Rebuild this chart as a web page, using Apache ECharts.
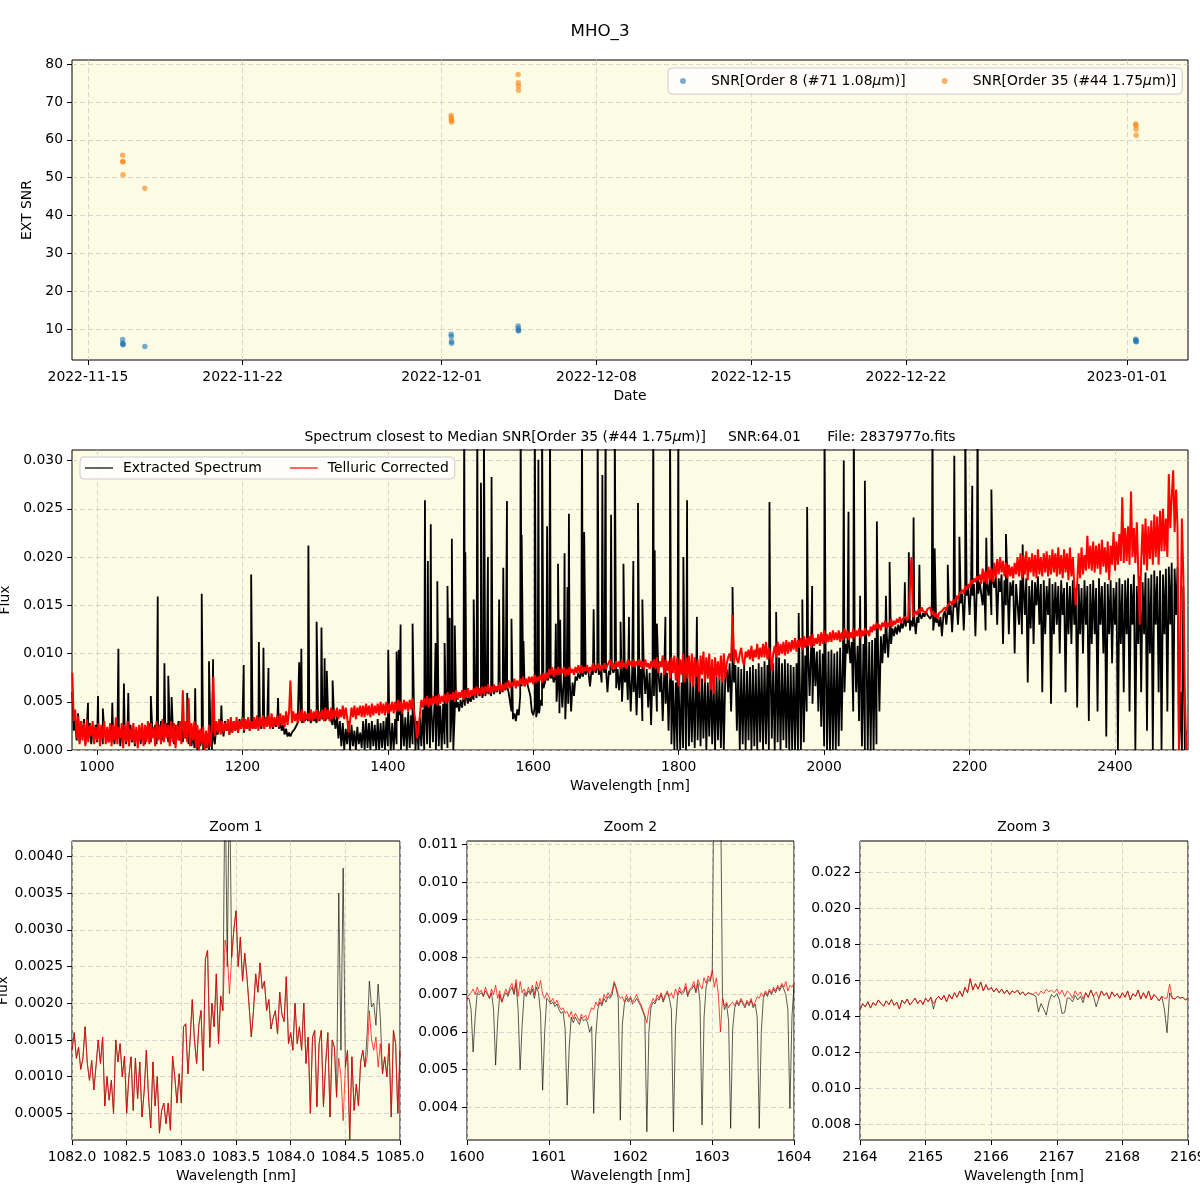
<!DOCTYPE html>
<html>
<head>
<meta charset="utf-8">
<title>MHO_3</title>
<script src="https://cdn.jsdelivr.net/npm/echarts@6/dist/echarts.min.js"></script>
<style>
  html, body { margin: 0; padding: 0; background: #fff; }
  #chart { width: 1200px; height: 1200px; }
</style>
</head>
<body>
<div id="chart"></div>
<script>
// ---------- top panel: SNR per observation ----------
const obsDates = [
  '2022-11-16T13:40', '2022-11-16T13:50', '2022-11-16T14:00', '2022-11-16T14:10', '2022-11-17T13:45',
  '2022-12-01T10:20', '2022-12-01T10:30', '2022-12-01T10:40', '2022-12-01T10:50',
  '2022-12-04T11:00', '2022-12-04T11:10', '2022-12-04T11:20', '2022-12-04T11:30',
  '2023-01-01T09:30', '2023-01-01T09:40', '2023-01-01T09:50', '2023-01-01T10:00'
];
const snrOrder8 = [7.2, 6.2, 6.0, 5.8, 5.4, 8.6, 8.0, 6.7, 6.2, 10.8, 10.1, 9.6, 9.5, 7.3, 7.0, 6.7, 6.6];
const snrOrder35 = [55.9, 54.3, 54.2, 50.8, 47.2, 66.4, 65.8, 65.2, 64.7, 77.3, 75.1, 74.2, 73.1, 64.2, 63.8, 62.8, 61.2];
const dateTicks = ['2022-11-15', '2022-11-22', '2022-12-01', '2022-12-08', '2022-12-15', '2022-12-22', '2023-01-01'];
const snrTicks = [10, 20, 30, 40, 50, 60, 70, 80];

// ---------- middle panel: full spectrum (flux in units of 1e-4, 2 nm sampling) ----------
const specStart = 966;
const specStep = 2;   // nm
const extractedFlux = [
  60,20,30,10,38,8,26,14,32,6,24,12,28,6,22,14,26,8,20,12,24,6,20,12,22,
  8,24,10,20,6,22,12,26,4,20,10,24,6,18,12,26,8,22,4,20,12,24,6,22,10,
  6,24,12,28,8,22,14,26,6,24,12,30,10,26,14,28,8,24,12,28,6,26,14,30,10,
  24,8,28,12,26,6,22,4,18,2,14,0,20,4,10,0,16,2,12,0,18,0,14,6,24,
  16,28,18,26,14,30,20,26,16,28,18,30,20,28,18,32,22,28,18,30,22,32,20,30,22,
  32,22,34,24,30,22,34,24,32,26,34,24,30,22,32,24,30,22,28,20,26,16,22,14,18,
  14,18,16,22,20,28,26,32,28,34,30,36,30,34,28,36,30,34,28,36,30,38,32,36,30,
  36,32,38,30,26,34,22,36,12,30,4,28,0,22,6,30,0,26,4,20,0,24,6,18,2,
  30,0,32,2,28,0,30,4,26,0,32,0,28,2,30,0,34,4,30,0,28,0,32,6,30,
  36,0,38,4,34,0,40,2,36,6,38,0,30,0,34,4,42,0,40,6,44,2,42,8,46,
  0,44,4,46,0,48,6,44,2,50,8,46,0,40,44,50,40,52,44,54,46,56,48,56,50,
  58,52,60,54,62,56,60,54,62,56,64,58,62,56,64,58,66,60,64,58,66,60,68,62,66,
  60,50,40,32,38,30,42,36,56,66,70,66,72,68,70,56,40,36,44,34,42,38,52,46,64,
  70,76,72,78,74,80,70,76,50,74,38,70,44,76,32,72,48,74,40,70,56,76,72,80,74,
  80,76,82,78,84,80,66,82,78,84,80,86,78,84,70,86,80,84,60,82,78,86,80,84,64,
  84,62,82,50,84,70,86,52,84,40,82,60,86,36,80,54,84,30,82,58,84,44,80,26,82,
  56,84,40,82,60,80,30,78,48,80,20,74,6,72,0,70,0,68,0,70,2,72,0,74,4,
  74,8,76,2,72,10,78,4,74,12,76,0,70,14,78,6,72,0,76,10,74,2,80,0,76,
  84,60,90,40,92,70,88,20,86,0,84,6,88,0,82,10,86,0,88,4,84,0,90,8,86,
  0,92,6,88,0,94,12,90,0,92,8,96,0,90,10,94,2,90,0,88,0,86,0,90,0,
  92,0,94,8,98,40,100,56,104,48,106,66,102,40,104,24,100,4,104,0,102,0,104,0,100,
  0,102,4,106,20,104,60,110,100,114,90,112,40,110,60,108,30,112,4,110,0,114,0,112,0,
  114,0,116,6,112,40,118,90,120,100,122,96,124,110,126,118,128,120,130,122,132,126,134,128,136,
  132,124,134,128,136,120,138,132,140,136,142,138,144,140,142,136,140,124,138,132,136,128,138,118,140,
  144,130,146,140,150,122,152,148,156,130,158,152,162,124,164,160,168,140,170,160,172,118,170,162,174,
  172,150,176,124,174,160,178,140,176,168,180,130,178,164,182,110,176,150,178,120,174,160,176,100,172,
  170,130,176,120,172,140,178,70,170,126,176,110,174,150,180,130,172,60,176,120,170,140,178,48,172,
  120,174,130,170,100,176,140,168,60,174,120,170,110,176,130,168,44,172,120,168,100,176,130,170,30,
  172,110,176,120,168,40,178,130,170,100,174,14,172,120,176,90,168,130,174,0,178,110,172,60,176,
  120,178,40,172,130,182,0,170,110,180,60,174,120,184,20,178,100,182,0,186,130,180,60,186,0,
  182,120,188,40,190,130,194,0,188,140,190,0,60,0,170,0,20
];
// narrow emission lines of the extracted spectrum (wavelength nm, flux 1e-4)
const emissionWl = [
  987.6,1001.4,1008,1021,1029.4,1037,1043,1074,1083.5,1092.7,1098,1102.6,1124,1135,1144,1154,1159.6,1171,
  1201.8,1212,1222.6,1228.9,1235.8,1249,1278,1281,1290.7,1302,1308.7,1313,1316,1324,
  1400.5,1412,1415,1417.5,1434,1451,1455,1459,1465.6,1468,1478,1482,1485,1488,1492,1505,1506.5,1518,1523,
  1528,1532,1537.6,1542.6,1553,1558.7,1563.8,1570,1582.6,1584,1586.5,1602,1607,1612,1619,1623,1631,1634,
  1637,1643,1647,1649,1667,1670,1683,1688.5,1695,1699.5,1707,1712,1720,1724,1731.6,1737.6,
  1744,1750,1765,1767,1770,1781.7,1788,1799.5,1806.4,1811.5,1825,1874,1924.8,1934,1965,1970,1976.6,1983.5,
  2000.5,2027,2033.5,2040.8,2049.5,2056,2072.5,2085,2090,2111,2116.5,2123,2131,2149,2152,2170,2179,2186,
  2194,2203.7,2211,2223,2230,2250,2273
];
const emissionFlux = [
  49,56,43,49,105,69,59,56,159,90,77,55,59,64,162,92,94,46,
  88,182,112,106,85,54,91,105,212,133,127,95,82,72,
  104,102,104,130,131,259,196,234,111,175,111,170,137,219,129,350,205,156,350,
  277,350,200,283,156,189,258,136,350,223,113,350,301,350,232,350,131,193,
  135,204,169,245,350,226,146,350,285,350,244,350,133,193,138,196,
  256,156,350,207,131,138,350,350,200,259,138,169,257,143,142,156,252,170,
  350,300,247,350,160,279,237,160,195,174,205,241,192,350,209,192,305,221,
  350,274,350,220,270,224,213
];
const correctedFlux = [
  80,30,42,12,35,6,30,10,28,4,32,8,26,14,30,6,24,10,28,4,26,12,30,6,24,
  8,28,4,26,10,34,6,24,12,28,2,26,8,30,4,22,10,28,6,24,2,26,10,28,4,
  26,8,30,6,28,12,24,4,30,10,26,6,32,8,28,12,26,4,30,8,28,2,26,10,30,
  6,62,12,30,8,54,4,28,10,30,2,26,0,22,6,24,0,20,2,26,4,22,76,14,30,
  18,32,16,30,18,28,20,32,16,34,18,30,20,34,18,30,22,34,20,32,22,34,20,30,22,
  34,22,36,20,34,24,36,22,34,24,36,22,38,24,34,26,36,24,38,26,36,24,40,26,38,
  72,28,40,30,38,28,40,30,42,28,40,32,38,30,42,30,40,32,42,30,40,32,42,30,44,
  32,42,30,44,32,42,34,44,32,42,34,46,32,44,34,18,30,44,34,46,32,44,36,46,34,
  46,34,48,36,46,34,48,36,46,38,48,36,50,38,48,36,50,38,48,40,50,38,50,40,52,
  40,50,38,52,42,50,40,52,42,54,40,30,12,20,36,52,44,54,46,56,44,54,46,56,48,
  56,46,58,48,56,50,58,48,60,50,58,52,60,50,62,52,60,54,62,52,62,54,64,54,62,
  56,64,56,66,58,64,56,66,58,66,60,68,58,66,60,68,60,66,62,70,60,68,62,70,64,
  72,64,70,66,74,64,72,66,74,68,76,66,74,68,76,70,76,68,78,70,76,72,78,70,80,
  72,80,74,84,78,86,76,84,78,86,78,84,80,86,76,84,78,86,80,84,78,86,80,88,80,
  88,80,86,82,88,80,86,82,90,82,88,84,90,82,88,84,90,84,88,86,94,84,90,84,92,
  86,92,84,94,86,90,84,94,88,92,86,94,86,92,88,94,86,92,84,94,86,90,84,92,86,
  94,84,96,80,92,86,98,78,94,82,92,74,96,80,98,72,96,66,94,78,100,70,96,74,98,
  70,100,66,96,76,94,60,98,78,102,70,96,74,100,62,94,58,96,76,92,72,98,70,100,74,
  90,96,100,92,140,90,104,94,90,100,106,92,88,102,96,104,94,108,92,104,96,110,94,106,96,
  110,96,112,94,106,98,82,100,108,96,112,98,110,100,112,98,114,100,112,102,114,104,116,102,114,
  106,116,104,118,106,116,108,118,106,120,108,116,110,120,108,122,110,124,110,120,112,122,112,124,114,
  122,114,124,112,122,114,126,116,124,114,122,116,126,116,124,118,126,116,124,118,126,120,124,118,128,
  122,130,124,132,126,130,124,132,128,134,126,132,128,136,128,134,130,136,132,138,132,136,134,138,134,
  138,136,200,138,140,144,140,146,142,148,144,146,142,146,144,148,140,144,138,142,136,142,140,144,142,
  148,144,150,148,154,150,156,152,160,156,162,160,166,162,170,166,172,168,176,172,178,174,180,176,182,
  172,188,174,186,172,190,176,188,174,194,178,198,182,200,184,196,180,194,178,192,180,190,178,194,182,
  200,180,204,178,202,182,206,176,200,184,204,180,202,178,208,182,200,180,204,184,206,180,202,182,208,
  184,204,180,210,182,202,178,208,184,204,176,210,180,200,170,150,172,204,178,210,182,202,186,222,188,
  212,186,216,184,212,188,214,182,218,190,210,184,216,176,212,192,226,186,216,192,224,196,262,194,230,
  196,232,192,268,200,230,194,236,186,130,196,234,192,240,186,232,198,238,192,244,200,242,192,248,206,
  250,206,240,200,286,230,262,290,226,270,230,0,120,240,180,60,0
];
const wlTicks = [1000, 1200, 1400, 1600, 1800, 2000, 2200, 2400];
const fluxTicks = [0, 50, 100, 150, 200, 250, 300];

// ---------- zoom panels (flux in units of 1e-5) ----------
const zoom1Start = 1082, zoom1Step = 0.02;
const zoom1Extracted = [
  136,160,125,140,110,125,168,118,95,122, 82,115,150,118,154,60,100,68,95,50,
  150,120,145,100,128,50,100,127,54,125, 70,120,45,80,136,72,30,120,60,100,
  23,54,64,36,64,27,128,100,64,104, 64,168,172,104,150,205,150,118,170,190,
  108,260,272,140,200,168,240,145,210,190, 520,250,520,262,300,326,250,290,230,268,
  236,196,154,190,240,215,255,220,230,190, 205,165,180,190,158,215,185,175,236,145,
  160,136,200,145,168,136,200,118,154,50, 154,163,59,145,163,59,118,160,45,150,
  140,72,350,136,384,113,136,14,127,54, 90,60,120,136,113,160,230,195,200,170,
  226,180,104,127,100,145,45,163,145,50, 136
];
const zoom1Corrected = [
  136,160,125,140,110,125,168,118,95,122, 82,115,150,118,154,60,100,68,95,50,
  150,120,145,100,128,50,100,127,54,125, 70,120,45,80,136,72,30,120,60,100,
  23,54,64,36,64,27,128,100,64,104, 64,168,172,104,150,205,150,118,170,190,
  108,260,272,140,200,168,240,145,210,190, 286,268,213,262,300,326,250,290,230,268,
  236,196,154,190,240,215,255,220,230,190, 205,165,180,190,158,215,185,175,236,145,
  160,136,200,145,168,136,200,118,154,50, 154,163,59,145,163,59,118,160,45,150,
  140,72,125,100,40,113,136,14,127,54, 90,60,120,136,113,127,190,150,136,154,
  113,145,104,127,100,145,45,163,145,50, 136
];
const zoom1XTicks = [1082, 1082.5, 1083, 1083.5, 1084, 1084.5, 1085];
const zoom1YTicks = [50, 100, 150, 200, 250, 300, 350, 400];

const zoom2Start = 1600, zoom2Step = 0.025;
const zoom2Extracted = [
  690,690,660,547,640,705,700,705,695,710, 700,690,705,660,512,630,700,680,695,705,
  695,710,720,700,730,660,499,620,705,695, 710,700,715,690,720,705,650,445,600,690,
  685,675,680,668,675,660,650,655,610,405, 560,640,625,640,630,620,640,630,635,625,
  600,615,383,590,660,680,670,690,680,695, 690,700,730,715,690,365,620,675,690,680,
  690,675,680,690,680,670,655,640,334,600, 665,680,675,690,685,700,680,695,705,690,
  660,334,610,695,710,700,705,720,695,710, 715,725,705,730,680,352,640,720,740,735,
  760,1400,1600,1500,1300,694,660,675,630,343, 610,665,680,670,685,675,665,680,670,685,
  665,675,640,343,600,690,705,695,710,700, 715,705,720,710,725,715,700,660,396,640,
  725
];
const zoom2Corrected = [
  690,700,705,715,700,720,705,712,695,720, 705,690,715,700,725,690,710,680,700,715,
  700,720,730,705,740,695,735,705,715,700, 720,705,725,700,735,715,738,700,690,705,
  695,680,690,675,685,670,660,665,650,655, 640,655,635,650,640,630,648,638,645,632,
  650,665,660,680,670,690,675,700,690,705, 695,710,735,720,700,690,695,680,700,685,
  695,680,690,700,685,675,660,645,625,660, 675,690,680,700,690,705,685,700,710,695,
  705,690,715,700,720,705,710,730,700,715, 720,735,710,740,725,715,745,730,750,740,
  765,720,745,700,600,690,670,680,665,675, 680,670,685,675,690,680,670,685,675,690,
  670,680,695,690,705,695,710,700,715,705, 720,710,725,715,730,720,735,710,725,720,
  730
];
const zoom2XTicks = [1600, 1601, 1602, 1603, 1604];
const zoom2YTicks = [400, 500, 600, 700, 800, 900, 1000, 1100];

const zoom3Start = 2164, zoom3Step = 0.04;
const zoom3Extracted = [
  1434,1470,1452,1480,1445,1475,1460,1490,1470,1455, 1485,1465,1492,1460,1478,1440,1488,1470,1495,1462,
  1480,1500,1470,1490,1465,1500,1480,1505,1440,1495, 1510,1490,1515,1480,1520,1495,1530,1505,1540,1510,
  1560,1530,1608,1545,1580,1550,1590,1540,1575,1545, 1560,1535,1555,1530,1550,1525,1545,1520,1540,1530,
  1545,1520,1535,1515,1530,1525,1520,1510,1424,1470, 1440,1406,1480,1520,1505,1525,1490,1415,1420,1500,
  1500,1480,1515,1490,1510,1475,1530,1505,1545,1510, 1452,1500,1540,1515,1530,1495,1535,1510,1525,1500,
  1530,1505,1540,1490,1525,1510,1545,1495,1530,1500, 1540,1490,1520,1505,1485,1510,1440,1308,1530,1500,
  1495,1510,1500,1505,1490,1500
];
const zoom3Corrected = [
  1434,1470,1452,1480,1445,1475,1460,1490,1470,1455, 1485,1465,1492,1460,1478,1440,1488,1470,1495,1462,
  1480,1500,1470,1490,1465,1500,1480,1505,1470,1495, 1510,1490,1515,1480,1520,1495,1530,1505,1540,1510,
  1560,1530,1608,1545,1580,1550,1590,1540,1575,1545, 1560,1535,1555,1530,1550,1525,1545,1520,1540,1530,
  1545,1520,1535,1515,1530,1525,1520,1535,1515,1540, 1525,1550,1535,1545,1530,1550,1520,1545,1510,1540,
  1525,1500,1540,1515,1535,1495,1530,1505,1545,1510, 1535,1500,1540,1515,1530,1495,1535,1510,1525,1500,
  1530,1505,1540,1490,1525,1510,1545,1495,1530,1500, 1540,1490,1520,1505,1485,1510,1500,1500,1578,1500,
  1495,1510,1500,1505,1490,1500
];
const zoom3XTicks = [2164, 2165, 2166, 2167, 2168, 2169];
const zoom3YTicks = [800, 1000, 1200, 1400, 1600, 1800, 2000, 2200];

// ---------- helpers ----------
const FONT = 'DejaVu Sans';
const FS = 13.9;
const PLOT_BG = '#fcfbe3';
const LABEL_8 = 'SNR[Order 8 (#71 1.08μm)]';
const LABEL_35 = 'SNR[Order 35 (#44 1.75μm)]';

const toTime = (s) => Date.parse(s + ':00Z');
const toPairs = (vals, start, step) => vals.map((v, i) => [+(start + i * step).toFixed(4), v]);
const italicMu = (s) => s.replace('μ', '{i|μ}');

const extractedPts = toPairs(extractedFlux, specStart, specStep)
  .concat(emissionWl.map((w, i) => [w, emissionFlux[i]]))
  .sort((a, b) => a[0] - b[0]);

const gridLine = { show: true, lineStyle: { color: '#cdcdcd', type: [5, 3], width: 0.8 } };

function makeAxis(gridIndex, min, max, ticks, fmt, margin, name, nameGap) {
  return {
    type: 'value', gridIndex, min, max,
    name: name || '', nameLocation: 'middle', nameGap: nameGap || 0,
    nameTextStyle: { color: '#000', fontSize: FS, fontFamily: FONT },
    axisLine: { show: false },
    axisTick: { show: true, inside: false, length: 5, lineStyle: { color: '#000', width: 1 }, customValues: ticks },
    axisLabel: { show: true, customValues: ticks, formatter: fmt, color: '#000', fontSize: FS, fontFamily: FONT, margin },
    splitLine: gridLine
  };
}

function lineSeries(name, data, xi, color, width, z) {
  return {
    name, type: 'line', data, xAxisIndex: xi, yAxisIndex: xi,
    symbol: 'none', showSymbol: false, silent: true, z,
    lineStyle: { color, width }, itemStyle: { color }
  };
}

function frameGrid(left, top, width, height) {
  return {
    left, top, width, height, show: true, backgroundColor: PLOT_BG,
    borderColor: '#000', borderWidth: 1, containLabel: false, outerBoundsMode: 'none'
  };
}

function label(text, x, y, size) {
  return {
    type: 'text', x, y, silent: true,
    style: {
      text, fill: '#000', font: size + 'px "' + FONT + '"',
      textAlign: 'center', textVerticalAlign: 'middle',
      rich: { i: { fontStyle: 'italic', fontSize: size, fontFamily: FONT, fill: '#000' } }
    }
  };
}

const fmtDate = (v) => new Date(v).toISOString().slice(0, 10);
const fmtFixed = (scale, d) => (v) => (v * scale).toFixed(d);

const chart = echarts.init(document.getElementById('chart'), null, { renderer: 'canvas' });

chart.setOption({
  animation: false,
  backgroundColor: '#fff',
  textStyle: { fontFamily: FONT },
  grid: [
    frameGrid(72, 60, 1116, 300),
    frameGrid(72, 450, 1116, 300),
    frameGrid(72, 841, 328, 299),
    frameGrid(467, 841, 327, 299),
    frameGrid(860, 841, 328, 299)
  ],
  xAxis: [
    makeAxis(0, toTime('2022-11-14T06:43'), toTime('2023-01-03T18:14'),
      dateTicks.map((d) => toTime(d + 'T00:00')), fmtDate, 10, 'Date', 29),
    makeAxis(1, 965.6, 2500.4, wlTicks, (v) => String(v), 10, 'Wavelength [nm]', 29),
    makeAxis(2, 1082, 1085, zoom1XTicks, (v) => v.toFixed(1), 10, 'Wavelength [nm]', 29),
    makeAxis(3, 1600, 1604, zoom2XTicks, (v) => String(v), 10, 'Wavelength [nm]', 29),
    makeAxis(4, 2164, 2169, zoom3XTicks, (v) => String(v), 10, 'Wavelength [nm]', 29)
  ],
  yAxis: [
    makeAxis(0, 1.8, 81.1, snrTicks, (v) => String(v), 9, 'EXT SNR', 31),
    makeAxis(1, 0, 311, fluxTicks, fmtFixed(1e-4, 3), 9, 'Flux', 50),
    makeAxis(2, 13.7, 421, zoom1YTicks, fmtFixed(1e-5, 4), 9, 'Flux', 61),
    makeAxis(3, 312, 1110, zoom2YTicks, fmtFixed(1e-5, 3), 9, '', 0),
    makeAxis(4, 713, 2372, zoom3YTicks, fmtFixed(1e-5, 3), 9, '', 0)
  ],
  legend: [
    {
      data: [LABEL_8, LABEL_35],
      left: 668, top: 68, orient: 'horizontal',
      padding: [6, 6, 6, 12], itemGap: 36, itemWidth: 14, itemHeight: 6,
      icon: 'circle', symbolKeepAspect: true,
      backgroundColor: 'rgba(255,255,255,0.8)', borderColor: '#cccccc', borderWidth: 1, borderRadius: 4,
      formatter: italicMu,
      textStyle: {
        color: '#000', fontSize: FS, fontFamily: FONT, padding: [0, 0, 0, 16],
        rich: { i: { fontStyle: 'italic', fontSize: FS, fontFamily: FONT, color: '#000' } }
      }
    },
    {
      data: ['Extracted Spectrum', 'Telluric Corrected'],
      left: 80, top: 457, orient: 'horizontal',
      padding: [4, 6, 4, 5], itemGap: 28, itemWidth: 28, itemHeight: 1.2, icon: 'rect',
      backgroundColor: 'rgba(255,255,255,0.8)', borderColor: '#cccccc', borderWidth: 1, borderRadius: 4,
      textStyle: { color: '#000', fontSize: FS, fontFamily: FONT, padding: [0, 0, 0, 5] }
    }
  ],
  graphic: [
    label('MHO_3', 600, 32, 16.7),
    label('Spectrum closest to Median SNR[Order 35 (#44 1.75{i|μ}m)]     SNR:64.01      File: 2837977o.fits', 630, 437, FS),
    label('Zoom 1', 236, 827, FS),
    label('Zoom 2', 630.5, 827, FS),
    label('Zoom 3', 1024, 827, FS)
  ],
  series: [
    {
      name: LABEL_8, type: 'scatter', xAxisIndex: 0, yAxisIndex: 0, symbolSize: 5.5, silent: true,
      itemStyle: { color: '#1f77b4', opacity: 0.6 },
      data: obsDates.map((d, i) => [toTime(d), snrOrder8[i]])
    },
    {
      name: LABEL_35, type: 'scatter', xAxisIndex: 0, yAxisIndex: 0, symbolSize: 5.5, silent: true,
      itemStyle: { color: '#ff7f0e', opacity: 0.6 },
      data: obsDates.map((d, i) => [toTime(d), snrOrder35[i]])
    },
    lineSeries('Extracted Spectrum', extractedPts, 1, '#000000', 1.8, 2),
    lineSeries('Telluric Corrected', toPairs(correctedFlux, specStart, specStep), 1, '#ff0000', 2.0, 3),
    lineSeries('Extracted Spectrum', toPairs(zoom1Extracted, zoom1Start, zoom1Step), 2, 'rgba(0,0,0,0.8)', 0.8, 2),
    lineSeries('Telluric Corrected', toPairs(zoom1Corrected, zoom1Start, zoom1Step), 2, 'rgba(255,0,0,0.8)', 0.9, 3),
    lineSeries('Extracted Spectrum', toPairs(zoom2Extracted, zoom2Start, zoom2Step), 3, 'rgba(0,0,0,0.8)', 0.8, 2),
    lineSeries('Telluric Corrected', toPairs(zoom2Corrected, zoom2Start, zoom2Step), 3, 'rgba(255,0,0,0.8)', 0.9, 3),
    lineSeries('Extracted Spectrum', toPairs(zoom3Extracted, zoom3Start, zoom3Step), 4, 'rgba(0,0,0,0.8)', 0.8, 2),
    lineSeries('Telluric Corrected', toPairs(zoom3Corrected, zoom3Start, zoom3Step), 4, 'rgba(255,0,0,0.8)', 0.9, 3)
  ]
});
</script>
</body>
</html>
